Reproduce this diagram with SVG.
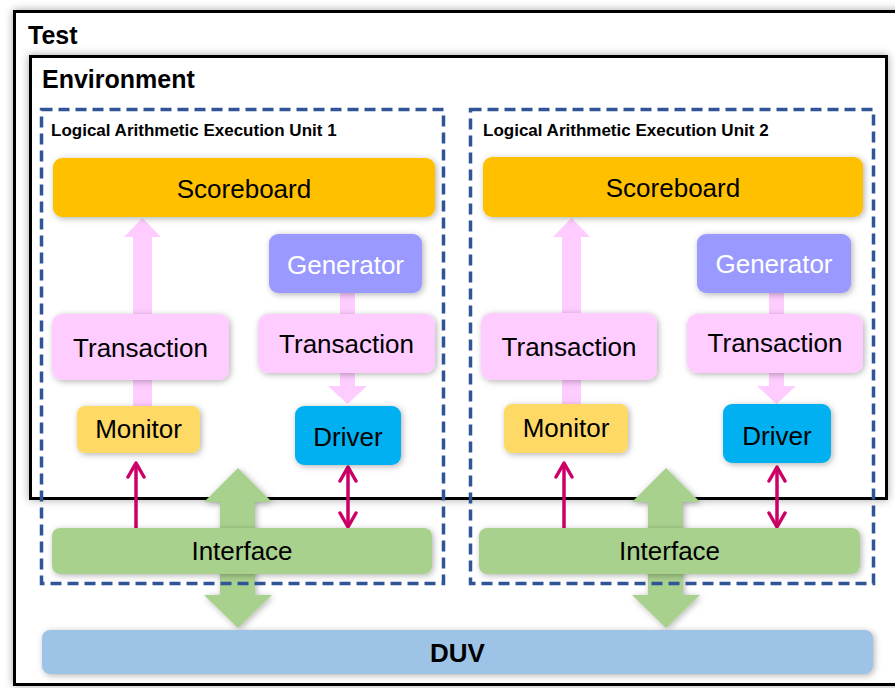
<svg xmlns="http://www.w3.org/2000/svg" width="895" height="688" viewBox="0 0 895 688">
  <defs>
    <filter id="shadow" x="-20%" y="-20%" width="140%" height="140%">
      <feDropShadow dx="1.5" dy="1.5" stdDeviation="3" flood-color="#000" flood-opacity="0.3"/>
    </filter>
    <filter id="frameShadow" x="-5%" y="-5%" width="110%" height="110%">
      <feDropShadow dx="0" dy="0" stdDeviation="4" flood-color="#000" flood-opacity="0.35"/>
    </filter>
    <marker id="chev" viewBox="0 0 20 20" refX="17" refY="10" markerWidth="20" markerHeight="20" markerUnits="userSpaceOnUse" orient="auto-start-reverse">
      <path d="M3,2 L17,10 L3,18" fill="none" stroke="#CC0066" stroke-width="3.5" stroke-linecap="round" stroke-linejoin="round"/>
    </marker>
  </defs>
  <style>
    text { font-family: "Liberation Sans", Arial, sans-serif; }
    .title { font-size: 25px; font-weight: bold; fill: #000; }
    .unit { font-size: 17px; font-weight: bold; fill: #000; }
    .lbl { font-size: 26px; fill: #000; text-anchor: middle; }
    .wlbl { font-size: 26px; fill: #fff; text-anchor: middle; }
    .frame { fill: #fff; stroke: #000; stroke-width: 3; }
    .dash { fill: none; stroke: #2F5597; stroke-width: 3.5; stroke-dasharray: 11 6; }
    .score { fill: #FFC000; }
    .gen { fill: #9999FF; }
    .trans { fill: #FFCCFF; }
    .mon { fill: #FFD966; }
    .drv { fill: #00B0F0; }
    .intf { fill: #A9D18E; }
    .duv { fill: #9DC3E6; }
    .pink { fill: #FFCCFF; }
    .green { fill: #A9D18E; }
    .sig { stroke: #CC0066; stroke-width: 3.5; fill: none; }
  </style>

  <rect width="895" height="688" fill="#fff"/>

  <!-- Test frame -->
  <g id="test">
    <rect class="frame" x="14.5" y="11.5" width="900" height="673" filter="url(#frameShadow)"/>
    <text class="title" x="28" y="44">Test</text>
  </g>

  <!-- Environment frame -->
  <g id="environment">
    <rect class="frame" x="30.5" y="56.5" width="856" height="442" filter="url(#frameShadow)"/>
    <text class="title" x="42" y="88">Environment</text>
  </g>

  <!-- Wide arrows (data paths), drawn beneath the blocks -->
  <g id="connectors">
    <!-- Unit 1 -->
    <polygon class="pink" points="133,406 133,237 124,237 142.5,218 161,237 152,237 152,406"/>
    <polygon class="pink" points="340,293 340,386 328,386 347.5,404 367,386 355,386 355,293"/>
    <polygon class="green" filter="url(#shadow)" points="238,468 204,502 220,502 220,595 204,595 238,628 272,595 255,595 255,502 272,502"/>
    <line class="sig" x1="136" y1="528" x2="136" y2="463" marker-end="url(#chev)"/>
    <line class="sig" x1="348" y1="467" x2="348" y2="527" marker-start="url(#chev)" marker-end="url(#chev)"/>
    <!-- Unit 2 -->
    <polygon class="pink" points="562,406 562,237 553,237 571.5,218 590,237 581,237 581,406"/>
    <polygon class="pink" points="769,293 769,386 757,386 776.5,404 796,386 784,386 784,293"/>
    <polygon class="green" filter="url(#shadow)" points="666,468 632,502 648,502 648,595 632,595 666,628 700,595 683,595 683,502 700,502"/>
    <line class="sig" x1="564" y1="528" x2="564" y2="463" marker-end="url(#chev)"/>
    <line class="sig" x1="777" y1="467" x2="777" y2="527" marker-start="url(#chev)" marker-end="url(#chev)"/>
  </g>

  <!-- Logical Arithmetic Execution Unit 1 -->
  <g id="unit1">
    <rect class="dash" x="41.5" y="109.5" width="402" height="474"/>
    <text class="unit" x="51" y="136">Logical Arithmetic Execution Unit 1</text>
  </g>
  <g id="scoreboard1">
    <rect class="score" x="53" y="158" width="382" height="59" rx="9" filter="url(#shadow)"/>
    <text class="lbl" x="244" y="198">Scoreboard</text>
  </g>
  <g id="generator1">
    <rect class="gen" x="269" y="234" width="153" height="59" rx="9" filter="url(#shadow)"/>
    <text class="wlbl" x="345.5" y="274">Generator</text>
  </g>
  <g id="transaction1a">
    <rect class="trans" x="52" y="314" width="177" height="66" rx="10" filter="url(#shadow)"/>
    <text class="lbl" x="140.5" y="357">Transaction</text>
  </g>
  <g id="transaction1b">
    <rect class="trans" x="258" y="314" width="177" height="59" rx="10" filter="url(#shadow)"/>
    <text class="lbl" x="346.5" y="353">Transaction</text>
  </g>
  <g id="monitor1">
    <rect class="mon" x="77" y="406" width="123" height="47" rx="8" filter="url(#shadow)"/>
    <text class="lbl" x="138.5" y="438">Monitor</text>
  </g>
  <g id="driver1">
    <rect class="drv" x="295" y="406" width="106" height="59" rx="9" filter="url(#shadow)"/>
    <text class="lbl" x="348" y="446">Driver</text>
  </g>
  <g id="interface1">
    <rect class="intf" x="52" y="528" width="380" height="46" rx="8" filter="url(#shadow)"/>
    <text class="lbl" x="242" y="560">Interface</text>
  </g>

  <!-- Logical Arithmetic Execution Unit 2 -->
  <g id="unit2">
    <rect class="dash" x="470.5" y="109.5" width="403" height="474"/>
    <text class="unit" x="483" y="136">Logical Arithmetic Execution Unit 2</text>
  </g>
  <g id="scoreboard2">
    <rect class="score" x="483" y="157" width="380" height="60" rx="9" filter="url(#shadow)"/>
    <text class="lbl" x="673" y="197">Scoreboard</text>
  </g>
  <g id="generator2">
    <rect class="gen" x="697" y="234" width="154" height="59" rx="9" filter="url(#shadow)"/>
    <text class="wlbl" x="774" y="273">Generator</text>
  </g>
  <g id="transaction2a">
    <rect class="trans" x="481" y="313" width="176" height="67" rx="10" filter="url(#shadow)"/>
    <text class="lbl" x="569" y="356">Transaction</text>
  </g>
  <g id="transaction2b">
    <rect class="trans" x="687" y="314" width="176" height="59" rx="10" filter="url(#shadow)"/>
    <text class="lbl" x="775" y="352">Transaction</text>
  </g>
  <g id="monitor2">
    <rect class="mon" x="504" y="404" width="124" height="49" rx="8" filter="url(#shadow)"/>
    <text class="lbl" x="566" y="437">Monitor</text>
  </g>
  <g id="driver2">
    <rect class="drv" x="723" y="404" width="108" height="59" rx="9" filter="url(#shadow)"/>
    <text class="lbl" x="777" y="445">Driver</text>
  </g>
  <g id="interface2">
    <rect class="intf" x="479" y="528" width="381" height="46" rx="8" filter="url(#shadow)"/>
    <text class="lbl" x="669.5" y="560">Interface</text>
  </g>

  <!-- Design under verification -->
  <g id="duv">
    <rect class="duv" x="42" y="630" width="831" height="44" rx="8" filter="url(#shadow)"/>
    <text class="lbl" x="457.5" y="662" font-weight="bold" font-size="25">DUV</text>
  </g>
</svg>
